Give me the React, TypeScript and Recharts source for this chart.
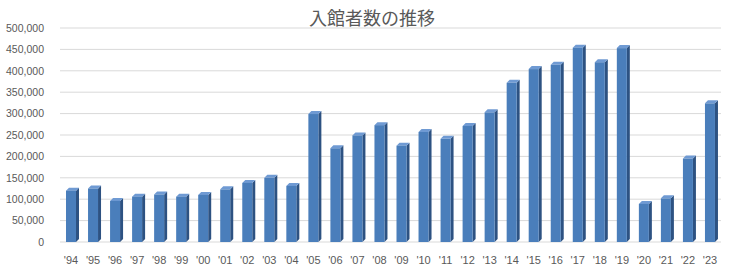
import React from "react";
import { BarChart, Bar, XAxis, YAxis, CartesianGrid } from "recharts";

const years = ["'94","'95","'96","'97","'98","'99","'00","'01","'02","'03","'04","'05","'06","'07","'08","'09","'10","'11","'12","'13","'14","'15","'16","'17","'18","'19","'20","'21","'22","'23"];
const visitors = [120000,125000,96000,106000,111000,106000,110000,123000,138000,150000,131000,299000,219000,249000,273000,225000,257000,241000,271000,303000,372000,404000,414000,454000,420000,453000,89000,102000,195000,324000];
const yTicks = [0,50000,100000,150000,200000,250000,300000,350000,400000,450000,500000];
const title = "入館者数の推移";

const data = years.map((y, i) => ({ year: y, value: visitors[i] }));

const fmt = (v: number) => v.toLocaleString("en-US");

const Bar3D = (props: any) => {
  const { x, y, width, height } = props;
  if (height == null || height <= 0) return null;
  const d = 3;
  return (
    <g>
      <polygon
        points={`${x + width},${y} ${x + width + d},${y - d} ${x + width + d},${y + height - d} ${x + width},${y + height}`}
        fill="#2d5282"
      />
      <polygon
        points={`${x},${y} ${x + d},${y - d} ${x + width + d},${y - d} ${x + width},${y}`}
        fill="#6f9ad3"
      />
      <rect x={x} y={y} width={width} height={height} fill="#4a7ebb" />
    </g>
  );
};

export default function App() {
  return (
    <div style={{ position: "absolute", left: 0, top: 0, width: 736, height: 276, background: "#ffffff", fontFamily: "'Liberation Sans', Arial, sans-serif" }}>
      <div
        style={{
          position: "absolute",
          left: 0,
          top: 5,
          width: 744,
          textAlign: "center",
          fontSize: 18,
          lineHeight: "24px",
          color: "#595959",
          fontFamily: "'Noto Sans CJK JP', sans-serif",
        }}
      >
        {title}
      </div>
      <BarChart
        width={736}
        height={276}
        data={data}
        margin={{ top: 28, right: 15, bottom: 4, left: 0 }}
        barCategoryGap={0}
      >
        <CartesianGrid vertical={false} stroke="#d9d9d9" strokeWidth={1} />
        <XAxis
          dataKey="year"
          height={30}
          axisLine={false}
          tickLine={false}
          tickMargin={8}
          interval={0}
          tick={{ fill: "#595959", fontSize: 11, fontFamily: "'Liberation Sans', Arial, sans-serif" }}
        />
        <YAxis
          width={60}
          domain={[0, 500000]}
          ticks={yTicks}
          tickFormatter={fmt}
          axisLine={false}
          tickLine={false}
          tickMargin={10}
          interval={0}
          tick={{ fill: "#595959", fontSize: 10.5, fontFamily: "'Liberation Sans', Arial, sans-serif" }}
        />
        <Bar dataKey="value" barSize={10} shape={Bar3D} isAnimationActive={false} />
      </BarChart>
    </div>
  );
}
